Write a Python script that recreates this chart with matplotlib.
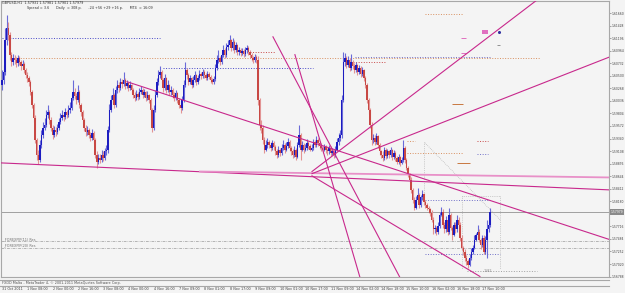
import matplotlib.pyplot as plt
from matplotlib.lines import Line2D
from matplotlib.transforms import blended_transform_factory

# GBPUSD H1 candles, 31 Oct - 17 Nov 2011 (open of bar n = close of bar n-1)
first_open = 1.6033
closes = [
    1.6042, 1.6057, 1.6116, 1.6138, 1.6125, 1.6089, 1.6076, 1.6083, 1.6079, 1.6074,
    1.6083, 1.6076, 1.6068, 1.6072, 1.6061, 1.6052, 1.6046, 1.6039, 1.6020, 1.5996,
    1.5972, 1.5932, 1.5904, 1.5895, 1.5922, 1.5941, 1.5954, 1.5959, 1.5978, 1.5983,
    1.5969, 1.5954, 1.5941, 1.5950, 1.5946, 1.5954, 1.5965, 1.5972, 1.5978, 1.5974,
    1.5983, 1.5978, 1.5987, 1.5991, 1.6009, 1.6020, 1.6013, 1.6005, 1.6020, 1.5996,
    1.5983, 1.5969, 1.5954, 1.5946, 1.5950, 1.5941, 1.5935, 1.5945, 1.5932, 1.5904,
    1.5891, 1.5898, 1.5895, 1.5904, 1.5898, 1.5910, 1.5913, 1.5950, 1.5987, 1.6005,
    1.6015, 1.5996, 1.6024, 1.6033, 1.6028, 1.6039, 1.6035, 1.6042, 1.6031, 1.6037,
    1.6028, 1.6033, 1.6024, 1.6015, 1.6009, 1.6017, 1.6011, 1.6020, 1.6024, 1.6015,
    1.6020, 1.6009, 1.6015, 1.6005, 1.5987, 1.5954, 1.5987, 1.6015, 1.6039, 1.6052,
    1.6057, 1.6042, 1.6028, 1.6046, 1.6024, 1.6033, 1.6020, 1.6024, 1.6015, 1.6009,
    1.6018, 1.6005, 1.5996, 1.5991, 1.6005, 1.6033, 1.6061, 1.6052, 1.6039, 1.6046,
    1.6033, 1.6042, 1.6052, 1.6039, 1.6046, 1.6053, 1.6050, 1.6057, 1.6052, 1.6046,
    1.6053, 1.6048, 1.6042, 1.6039, 1.6044, 1.6065, 1.6079, 1.6083, 1.6076, 1.6089,
    1.6098, 1.6089, 1.6103, 1.6107, 1.6116, 1.6101, 1.6113, 1.6098, 1.6107, 1.6094,
    1.6098, 1.6092, 1.6096, 1.6090, 1.6098, 1.6101, 1.6094, 1.6089, 1.6083, 1.6079,
    1.6085, 1.6079, 1.6005, 1.5959, 1.5954, 1.5932, 1.5913, 1.5922, 1.5928, 1.5922,
    1.5917, 1.5926, 1.5919, 1.5910, 1.5904, 1.5913, 1.5908, 1.5917, 1.5922, 1.5913,
    1.5921, 1.5928, 1.5917, 1.5910, 1.5904, 1.5913, 1.5900, 1.5922, 1.5941, 1.5913,
    1.5922, 1.5913, 1.5917, 1.5926, 1.5921, 1.5913, 1.5917, 1.5928, 1.5922, 1.5932,
    1.5926, 1.5921, 1.5917, 1.5913, 1.5919, 1.5913, 1.5910, 1.5917, 1.5908, 1.5911,
    1.5904, 1.5913, 1.5928, 1.5935, 1.5941, 1.6005, 1.6076, 1.6083, 1.6070, 1.6079,
    1.6065, 1.6076, 1.6068, 1.6061, 1.6070, 1.6057, 1.6065, 1.6053, 1.6061, 1.6046,
    1.6033, 1.6005, 1.5987, 1.5959, 1.5932, 1.5935, 1.5928, 1.5939, 1.5922, 1.5910,
    1.5904, 1.5898, 1.5913, 1.5902, 1.5910, 1.5904, 1.5913, 1.5900, 1.5908, 1.5898,
    1.5891, 1.5900, 1.5889, 1.5895, 1.5917, 1.5895, 1.5880, 1.5867, 1.5858, 1.5839,
    1.5821, 1.5806, 1.5821, 1.5830, 1.5812, 1.5825, 1.5832, 1.5817, 1.5812, 1.5806,
    1.5803, 1.5797, 1.5784, 1.5766, 1.5769, 1.5762, 1.5773, 1.5793, 1.5799, 1.5775,
    1.5766, 1.5784, 1.5762, 1.5793, 1.5769, 1.5756, 1.5775, 1.5766, 1.5784, 1.5775,
    1.5751, 1.5732, 1.5725, 1.5714, 1.5707, 1.5701, 1.5714, 1.5725, 1.5732, 1.5747,
    1.5755, 1.5762, 1.5747, 1.5738, 1.5751, 1.5725, 1.5747, 1.5766, 1.5775, 1.5798,
]
highs = [
    1.6061, 1.6070, 1.6138, 1.6162, 1.6149, 1.6131, 1.6094, 1.6090, 1.6089, 1.6085,
    1.6089, 1.6087, 1.6079, 1.6079, 1.6076, 1.6065, 1.6057, 1.6050, 1.6042, 1.6024,
    1.6000, 1.5978, 1.5935, 1.5913, 1.5932, 1.5950, 1.5965, 1.5972, 1.5987, 1.5996,
    1.5987, 1.5974, 1.5959, 1.5958, 1.5956, 1.5961, 1.5972, 1.5982, 1.5987, 1.5983,
    1.5991, 1.5987, 1.5996, 1.6002, 1.6017, 1.6042, 1.6028, 1.6018, 1.6033, 1.6024,
    1.6000, 1.5987, 1.5972, 1.5959, 1.5958, 1.5954, 1.5946, 1.5952, 1.5948, 1.5935,
    1.5910, 1.5906, 1.5906, 1.5913, 1.5910, 1.5917, 1.5922, 1.5958, 1.5998, 1.6015,
    1.6028, 1.6018, 1.6031, 1.6042, 1.6039, 1.6046, 1.6044, 1.6057, 1.6046, 1.6042,
    1.6039, 1.6041, 1.6035, 1.6028, 1.6020, 1.6024, 1.6020, 1.6028, 1.6031, 1.6028,
    1.6026, 1.6022, 1.6022, 1.6017, 1.6009, 1.5991, 1.5996, 1.6024, 1.6046, 1.6061,
    1.6068, 1.6061, 1.6046, 1.6053, 1.6048, 1.6042, 1.6035, 1.6031, 1.6028, 1.6020,
    1.6024, 1.6020, 1.6009, 1.6002, 1.6013, 1.6042, 1.6076, 1.6065, 1.6055, 1.6052,
    1.6048, 1.6050, 1.6059, 1.6053, 1.6052, 1.6061, 1.6057, 1.6063, 1.6061, 1.6055,
    1.6059, 1.6057, 1.6052, 1.6046, 1.6050, 1.6072, 1.6089, 1.6098, 1.6087, 1.6094,
    1.6107, 1.6101, 1.6111, 1.6116, 1.6125, 1.6118, 1.6120, 1.6116, 1.6113, 1.6109,
    1.6103, 1.6101, 1.6101, 1.6100, 1.6103, 1.6107, 1.6105, 1.6098, 1.6092, 1.6087,
    1.6090, 1.6089, 1.6087, 1.6009, 1.5969, 1.5959, 1.5937, 1.5932, 1.5935, 1.5932,
    1.5928, 1.5932, 1.5930, 1.5922, 1.5915, 1.5921, 1.5917, 1.5924, 1.5932, 1.5926,
    1.5928, 1.5935, 1.5932, 1.5921, 1.5915, 1.5921, 1.5917, 1.5928, 1.5959, 1.5945,
    1.5930, 1.5926, 1.5924, 1.5934, 1.5930, 1.5924, 1.5924, 1.5934, 1.5932, 1.5939,
    1.5935, 1.5930, 1.5926, 1.5921, 1.5924, 1.5922, 1.5917, 1.5922, 1.5921, 1.5917,
    1.5915, 1.5921, 1.5935, 1.5945, 1.5950, 1.6015, 1.6094, 1.6092, 1.6087, 1.6087,
    1.6083, 1.6090, 1.6079, 1.6074, 1.6076, 1.6072, 1.6070, 1.6068, 1.6066, 1.6063,
    1.6050, 1.6037, 1.6009, 1.5991, 1.5965, 1.5943, 1.5941, 1.5945, 1.5941, 1.5926,
    1.5913, 1.5910, 1.5919, 1.5917, 1.5915, 1.5913, 1.5919, 1.5915, 1.5913, 1.5911,
    1.5902, 1.5906, 1.5902, 1.5900, 1.5932, 1.5921, 1.5898, 1.5884, 1.5871, 1.5862,
    1.5843, 1.5825, 1.5828, 1.5843, 1.5834, 1.5830, 1.5838, 1.5834, 1.5821, 1.5815,
    1.5810, 1.5806, 1.5801, 1.5788, 1.5775, 1.5773, 1.5779, 1.5799, 1.5808, 1.5803,
    1.5779, 1.5790, 1.5788, 1.5806, 1.5797, 1.5773, 1.5780, 1.5779, 1.5793, 1.5788,
    1.5779, 1.5755, 1.5736, 1.5729, 1.5718, 1.5712, 1.5720, 1.5731, 1.5738, 1.5755,
    1.5760, 1.5775, 1.5766, 1.5751, 1.5756, 1.5755, 1.5753, 1.5784, 1.5782, 1.5806,
]
lows = [
    1.6024, 1.6035, 1.6052, 1.6107, 1.6116, 1.6079, 1.6068, 1.6070, 1.6072, 1.6066,
    1.6068, 1.6070, 1.6061, 1.6063, 1.6055, 1.6046, 1.6039, 1.6031, 1.6015, 1.5991,
    1.5965, 1.5926, 1.5895, 1.5886, 1.5891, 1.5917, 1.5935, 1.5950, 1.5956, 1.5972,
    1.5961, 1.5948, 1.5934, 1.5937, 1.5939, 1.5943, 1.5950, 1.5961, 1.5969, 1.5967,
    1.5970, 1.5972, 1.5974, 1.5982, 1.5987, 1.6005, 1.6007, 1.5998, 1.6002, 1.5991,
    1.5976, 1.5961, 1.5948, 1.5939, 1.5941, 1.5935, 1.5930, 1.5932, 1.5924, 1.5898,
    1.5880, 1.5886, 1.5889, 1.5891, 1.5893, 1.5895, 1.5904, 1.5908, 1.5946, 1.5983,
    1.6000, 1.5991, 1.5993, 1.6018, 1.6020, 1.6024, 1.6028, 1.6031, 1.6026, 1.6028,
    1.6022, 1.6024, 1.6018, 1.6009, 1.6004, 1.6005, 1.6005, 1.6007, 1.6017, 1.6009,
    1.6011, 1.6004, 1.6005, 1.6000, 1.5980, 1.5946, 1.5950, 1.5983, 1.6011, 1.6033,
    1.6046, 1.6037, 1.6020, 1.6024, 1.6018, 1.6020, 1.6015, 1.6015, 1.6009, 1.6004,
    1.6005, 1.6000, 1.5991, 1.5982, 1.5987, 1.6002, 1.6029, 1.6044, 1.6033, 1.6035,
    1.6028, 1.6029, 1.6039, 1.6033, 1.6035, 1.6042, 1.6044, 1.6046, 1.6046, 1.6042,
    1.6042, 1.6044, 1.6037, 1.6035, 1.6035, 1.6041, 1.6061, 1.6074, 1.6070, 1.6072,
    1.6085, 1.6083, 1.6085, 1.6098, 1.6103, 1.6096, 1.6098, 1.6092, 1.6094, 1.6089,
    1.6089, 1.6087, 1.6089, 1.6085, 1.6087, 1.6092, 1.6089, 1.6083, 1.6077, 1.6074,
    1.6076, 1.6074, 1.5996, 1.5950, 1.5945, 1.5924, 1.5908, 1.5910, 1.5917, 1.5917,
    1.5911, 1.5913, 1.5913, 1.5904, 1.5898, 1.5900, 1.5902, 1.5904, 1.5913, 1.5908,
    1.5910, 1.5917, 1.5911, 1.5904, 1.5898, 1.5900, 1.5895, 1.5898, 1.5919, 1.5895,
    1.5910, 1.5908, 1.5910, 1.5913, 1.5915, 1.5910, 1.5910, 1.5913, 1.5919, 1.5919,
    1.5921, 1.5915, 1.5911, 1.5908, 1.5910, 1.5908, 1.5904, 1.5906, 1.5902, 1.5904,
    1.5898, 1.5900, 1.5910, 1.5922, 1.5930, 1.5935, 1.6002, 1.6068, 1.6065, 1.6066,
    1.6059, 1.6061, 1.6063, 1.6055, 1.6057, 1.6052, 1.6053, 1.6048, 1.6050, 1.6041,
    1.6028, 1.6000, 1.5980, 1.5954, 1.5922, 1.5926, 1.5922, 1.5924, 1.5917, 1.5904,
    1.5898, 1.5893, 1.5895, 1.5897, 1.5898, 1.5898, 1.5900, 1.5895, 1.5897, 1.5893,
    1.5886, 1.5887, 1.5884, 1.5886, 1.5891, 1.5889, 1.5875, 1.5862, 1.5852, 1.5834,
    1.5814, 1.5801, 1.5803, 1.5817, 1.5806, 1.5808, 1.5821, 1.5812, 1.5806, 1.5801,
    1.5797, 1.5791, 1.5779, 1.5758, 1.5760, 1.5756, 1.5758, 1.5769, 1.5790, 1.5769,
    1.5760, 1.5762, 1.5756, 1.5758, 1.5764, 1.5747, 1.5753, 1.5760, 1.5762, 1.5769,
    1.5745, 1.5727, 1.5718, 1.5708, 1.5701, 1.5695, 1.5699, 1.5710, 1.5721, 1.5729,
    1.5744, 1.5751, 1.5742, 1.5729, 1.5734, 1.5720, 1.5721, 1.5714, 1.5762, 1.5771,
]

time_labels = ['31 Oct 2011', '1 Nov 08:00', '2 Nov 00:00', '2 Nov 16:00', '3 Nov 08:00',
               '4 Nov 00:00', '4 Nov 16:00', '7 Nov 09:00', '8 Nov 01:00', '8 Nov 17:00',
               '9 Nov 09:00', '10 Nov 01:00', '10 Nov 17:00', '11 Nov 09:00', '14 Nov 02:00',
               '14 Nov 18:00', '15 Nov 10:00', '16 Nov 02:00', '16 Nov 18:00', '17 Nov 10:00']
bars_per_label = 16

price_ticks = [1.61660, 1.61428, 1.61196, 1.60964, 1.60732, 1.60500, 1.60268, 1.60036,
               1.59804, 1.59572, 1.59340, 1.59108, 1.58876, 1.58644, 1.58412, 1.58180,
               1.57716, 1.57484, 1.57252, 1.57020, 1.56788]
bid = 1.57979

title = 'GBPUSD,H1  1.57931 1.57981 1.57901 1.57979'
info = 'Spread = 3.6      Daily  = 308 p.      -24 +56 +29 +16 p.      MT4  = 16:09'
copyright_txt = 'FXDD Malta - MetaTrader 4, \u00a9 2001-2011 MetaQuotes Software Corp.'

# trend lines: (bar, price) -> (bar, price), colour, width
trend_lines = [
    ((-1.3, 1.5889), (384.8, 1.5839), '#C8288C', 0.8),
    ((125.3, 1.5873), (384.8, 1.5862), '#E890C8', 1.3),
    ((79.1, 1.6039), (384.8, 1.5747), '#C8288C', 0.8),
    ((171.5, 1.6122), (251.9, 1.5677), '#C8288C', 0.8),
    ((185.4, 1.6089), (226.6, 1.5677), '#C8288C', 0.8),
    ((196.2, 1.5873), (338.6, 1.6190), '#C8288C', 0.8),
    ((196.2, 1.5869), (384.8, 1.6085), '#C8288C', 0.8),
    ((196.2, 1.5865), (302.5, 1.5679), '#C8288C', 0.8),
]

# short horizontal levels: bar from, bar to, price, colour, style
levels = [
    (0, 100, 1.6120, '#4848C8', ':'),
    (5.1, 340.5, 1.6083, '#D89060', ':'),
    (223.4, 308.9, 1.6085, '#7070C8', ':'),
    (101.9, 196.8, 1.6065, '#4848C8', ':'),
    (157, 172.8, 1.6094, '#C84848', ':'),
    (222.2, 242.4, 1.6076, '#C84848', ':'),
    (267.7, 291.8, 1.6164, '#D89060', ':'),
    (290.5, 293.7, 1.6120, '#E070C0', '-'),
    (290.5, 293.7, 1.6092, '#E070C0', '-'),
    (313.3, 315.2, 1.6107, '#909090', '-'),
    (284.8, 291.8, 1.5998, '#C87840', '-'),
    (256.3, 261.4, 1.5930, '#D89060', ':'),
    (300.6, 307.6, 1.5930, '#C84848', ':'),
    (256.3, 291.8, 1.5908, '#D89060', ':'),
    (300.6, 307.6, 1.5906, '#7070C8', ':'),
    (288.0, 296.2, 1.5889, '#C87840', '-'),
    (300.6, 307.6, 1.5867, '#7070C8', ':'),
    (267.7, 308.9, 1.5821, '#7070C8', ':'),
    (267.7, 315.2, 1.5720, '#7070C8', ':'),
    (294.3, 338.6, 1.5690, '#A0A0A0', ':'),
]
# dotted grey projection lines
grey_dotted = [
    ((267.1, 1.5928), (267.1, 1.5821)),
    ((267.7, 1.5926), (315.2, 1.5784)),
    ((291.1, 1.5827), (291.1, 1.5692)),
    ((315.2, 1.5827), (315.2, 1.5692)),
    ((291.1, 1.5827), (315.2, 1.5827)),
]
res_lines = [(1.5744, '_FOREXPIP(11) Res'), (1.5732, '_FOREXPIP(20) Res')]

BG = '#F4F4F4'
FRAME = '#A8A8A8'
BULL, BULL_W = '#1C1CC0', '#6A6AD8'
BEAR, BEAR_W = '#C84844', '#E29494'
FS = 2.4

W, H = 625, 293
fig = plt.figure(figsize=(W / 100, H / 100), dpi=100, facecolor=BG)
ax = fig.add_axes([1 / W, 16 / H, 608 / W, 276 / H])
ax.set_facecolor(BG)
ax.set_xlim(-0.63, 384.2)
ax.set_ylim(1.5678, 1.61882)

opens = [first_open] + closes[:-1]
xs = list(range(len(closes)))
body_cols = [BULL if c >= o else BEAR for o, c in zip(opens, closes)]
wick_cols = [BULL_W if c >= o else BEAR_W for o, c in zip(opens, closes)]
ax.vlines(xs, lows, highs, colors=wick_cols, lw=0.8, zorder=3)
ax.bar(xs, [max(abs(c - o), 0.00008) for o, c in zip(opens, closes)],
       bottom=[min(o, c) for o, c in zip(opens, closes)],
       width=0.9, color=body_cols, lw=0, zorder=4)

ax.axhline(bid, color='#A0A0A0', lw=0.7, zorder=1)

for (b0, p0), (b1, p1), col, lw in trend_lines:
    ax.plot([b0, b1], [p0, p1], color=col, lw=lw, zorder=5)

for b0, b1, p, col, ls in levels:
    ax.hlines(p, b0, b1, colors=col, linestyles=ls, lw=0.7, zorder=2)

for (b0, p0), (b1, p1) in grey_dotted:
    ax.plot([b0, b1], [p0, p1], color='#A8A8A8', lw=0.5, ls=':', zorder=2)

for p, name in res_lines:
    ax.axhline(p, color='#9A9A9A', lw=0.5, ls=(0, (4, 1.5, 1, 1.5)), zorder=2)
    ax.text(0.5, p, name, fontsize=FS, color='#707070', va='bottom', ha='left', zorder=6)

ax.text(304, 1.6129, '     ', fontsize=FS, zorder=6,
        bbox=dict(facecolor='#E070C0', edgecolor='none', pad=0.3))
ax.plot([314.6], [1.6131], 'o', color='#3030A0', ms=1.2, zorder=6)
ax.text(305, 1.5688, '1582', fontsize=FS, color='#808080', zorder=6)

# axes frame and price scale
for s in ax.spines.values():
    s.set_color(FRAME)
    s.set_linewidth(0.8)
ax.set_xticks([])
ax.yaxis.tick_right()
ax.set_yticks(price_ticks)
ax.set_yticklabels(['%.5f' % p for p in price_ticks])
ax.tick_params(axis='y', length=1.2, width=0.5, color='#808080', pad=0.4,
               labelsize=2.2, labelcolor='#404040')
ax.text(1.002, bid, '%.5f' % bid, transform=blended_transform_factory(ax.transAxes, ax.transData),
        fontsize=2.2, color='white', va='center', ha='left', clip_on=False, zorder=10,
        bbox=dict(facecolor='#8A8A8A', edgecolor='none', pad=0.5))

# header
fig.text(2 / W, 1 - 3.5 / H, title, fontsize=FS, color='#303030', va='center')
fig.text(27 / W, 1 - 8 / H, info, fontsize=FS, color='#303030', va='center')

# bottom panel lines, copyright and time scale
for ypx in (280, 286):
    fig.add_artist(Line2D([0, 609 / W], [1 - ypx / H] * 2, color=FRAME, lw=0.8))
fig.text(2 / W, 1 - 283 / H, copyright_txt, fontsize=FS, color='#505050', va='center')
tr = blended_transform_factory(ax.transData, fig.transFigure)
for k, lab in enumerate(time_labels):
    ax.text(k * bars_per_label, 1 - 289.5 / H, lab, transform=tr, fontsize=FS,
            color='#404040', ha='left', va='center', clip_on=False)

fig.savefig('out.png', dpi=100, facecolor=BG)
